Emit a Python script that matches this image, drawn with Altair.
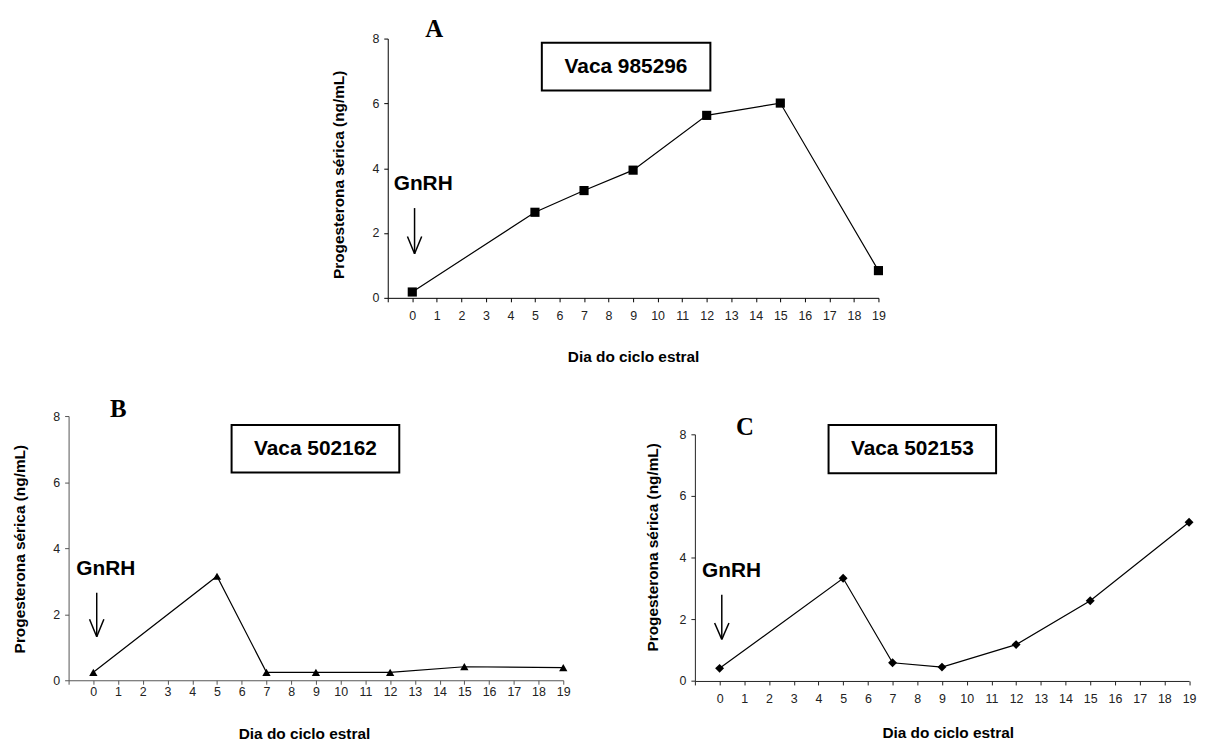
import altair as alt
import pandas as pd

# ---- data ----
dias = [0, 5, 7, 9, 12, 15, 19]
prog_a = [0.18, 2.64, 3.31, 3.94, 5.63, 6.01, 0.84]
prog_b = [0.24, 3.15, 0.24, 0.24, 0.24, 0.41, 0.38]
prog_c = [0.41, 3.33, 0.59, 0.45, 1.18, 2.60, 5.15]

vacas = ["Vaca 985296", "Vaca 502162", "Vaca 502153"]
letras = ["A", "B", "C"]
formas = ["square", "triangle-up", "diamond"]
tam_marca = [85, 70, 80]

x_ticks = list(range(-1, 20))
y_ticks = [0, 2, 4, 6, 8]

# annotation anchors in data units (day, ng/mL)
letra_x = [0.89, 1.01, 1.03]
letra_y = [8.29, 8.21, 8.25]
caixa_x1 = [5.28, 5.59, 4.41]
caixa_x2 = [12.15, 12.37, 11.19]
caixa_y1 = [6.40, 6.29, 6.74]
caixa_y2 = [7.87, 7.73, 8.30]
rotulo_x = [8.71, 8.98, 7.80]
rotulo_y = [7.13, 7.01, 7.52]
gnrh_x = [0.445, 0.506, 0.487]
gnrh_y = [3.52, 3.38, 3.56]
seta_x = [0.093, 0.137, 0.089]
seta_topo = [2.77, 2.65, 2.80]
seta_ponta = [1.36, 1.32, 1.35]
cabeca_dx = 0.29
cabeca_dy = 0.53

# panel geometry
larg = [494, 498, 497.5]
alt_ = [261, 266, 248.3]
lab_pad = [8, 1, 8]
eixo_cor = ["#000000", "#555555", "#222222"]
ytit_x = [-49.3, -49.3, -42.8]
ytit_y = [136.7, 133.5, 113.3]
xtit_x = [247, 237, 254.5]
xtit_y = [58.7, 54, 52]

SANS = "Liberation Sans"
SERIF = "Liberation Serif"


def painel(i, valores):
    w, h = larg[i], alt_[i]
    xs = alt.Scale(domain=[-1, 19], nice=False, zero=False)
    ys = alt.Scale(domain=[0, 8], nice=False, zero=False)
    xax = alt.Axis(
        values=x_ticks, labelExpr="datum.value < 0 ? '' : datum.label",
        title="Dia do ciclo estral", grid=False, tickSize=4, tickColor=eixo_cor[i],
        domainColor=eixo_cor[i], labelPadding=lab_pad[i], labelFont=SANS,
        labelFontSize=12.5, labelColor="#222222", labelFlush=False,
        labelOverlap=False, titleFont=SANS, titleFontSize=15.5,
        titleFontWeight="bold", titleColor="#000000", titleX=xtit_x[i],
        titleY=xtit_y[i], titleBaseline="middle", titleAlign="center",
    )
    yax = alt.Axis(
        values=y_ticks, title="Progesterona sérica (ng/mL)", grid=False,
        tickSize=4, tickColor=eixo_cor[i], domainColor=eixo_cor[i],
        labelPadding=5, labelFont=SANS, labelFontSize=12.5, labelColor="#222222",
        titleFont=SANS, titleFontSize=15.5, titleFontWeight="bold",
        titleColor="#000000", titleX=ytit_x[i], titleY=ytit_y[i],
        titleAngle=270, titleBaseline="middle", titleAlign="center",
    )
    X = alt.X("x:Q", scale=xs, axis=xax)
    Y = alt.Y("y:Q", scale=ys, axis=yax)

    serie = pd.DataFrame({"x": dias, "y": valores})
    linha = alt.Chart(serie).mark_line(color="black", strokeWidth=1.2).encode(x=X, y=Y)
    pontos = alt.Chart(serie).mark_point(
        shape=formas[i], filled=True, color="black", size=tam_marca[i], opacity=1
    ).encode(x=X, y=Y)

    caixa = alt.Chart(pd.DataFrame({
        "x": [caixa_x1[i]], "x2": [caixa_x2[i]], "y": [caixa_y1[i]], "y2": [caixa_y2[i]]
    })).mark_rect(fill="white", stroke="black", strokeWidth=2, clip=False).encode(
        x=X, x2="x2:Q", y=Y, y2="y2:Q")

    rotulo = alt.Chart(pd.DataFrame({"x": [rotulo_x[i]], "y": [rotulo_y[i]], "t": [vacas[i]]})).mark_text(
        font=SANS, fontSize=21, fontWeight="bold", color="black", align="center",
        baseline="middle", clip=False).encode(x=X, y=Y, text="t:N")

    letra = alt.Chart(pd.DataFrame({"x": [letra_x[i]], "y": [letra_y[i]], "t": [letras[i]]})).mark_text(
        font=SERIF, fontSize=25, fontWeight="bold", color="black", align="center",
        baseline="middle", clip=False).encode(x=X, y=Y, text="t:N")

    gnrh = alt.Chart(pd.DataFrame({"x": [gnrh_x[i]], "y": [gnrh_y[i]], "t": ["GnRH"]})).mark_text(
        font=SANS, fontSize=21, fontWeight="bold", color="black", align="center",
        baseline="middle", clip=False).encode(x=X, y=Y, text="t:N")

    sx, st, sp = seta_x[i], seta_topo[i], seta_ponta[i]
    seta_df = pd.DataFrame({
        "x": [sx, sx - cabeca_dx, sx + cabeca_dx],
        "x2": [sx, sx, sx],
        "y": [st, sp + cabeca_dy, sp + cabeca_dy],
        "y2": [sp, sp, sp],
    })
    seta = alt.Chart(seta_df).mark_rule(color="black", strokeWidth=1.5, clip=False).encode(
        x=X, x2="x2:Q", y=Y, y2="y2:Q")

    return alt.layer(linha, pontos, caixa, rotulo, letra, gnrh, seta).properties(width=w, height=h)


def espaco(w, h):
    return alt.Chart(pd.DataFrame({"s": [0]})).mark_point(opacity=0).encode(
        x=alt.X("s:Q", axis=None), y=alt.Y("s:Q", axis=None)
    ).properties(width=w, height=h)


ch_a = painel(0, prog_a)
ch_b = painel(1, prog_b)
ch_c = painel(2, prog_c)

linha1 = alt.hconcat(espaco(1, 261), ch_a, spacing=320.3, bounds="flush")
col_c = alt.vconcat(espaco(1, 1), ch_c, spacing=17.4, bounds="flush")
linha2 = alt.hconcat(ch_b, col_c, spacing=132.5, bounds="flush")

# nested rows count as zero height in a flush layout, so the row gap
# includes the height of panel A
chart = alt.vconcat(linha1, linha2, spacing=380, bounds="flush").properties(
    padding={"left": 4, "top": 6.3, "right": 2, "bottom": 2},
    background="white",
).configure_view(stroke=None)

chart.save("out.html", embed_options={"renderer": "svg", "actions": False})
